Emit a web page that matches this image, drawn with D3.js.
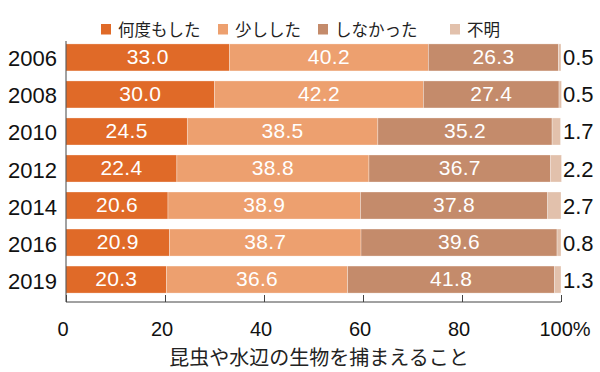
<!DOCTYPE html>
<html><head><meta charset="utf-8">
<script src="https://cdn.jsdelivr.net/npm/d3@7"></script>
<style>body{margin:0;background:#fff}svg{display:block}</style>
</head><body><svg id="c" width="600" height="372"></svg>
<script>
const years = ["2006","2008","2010","2012","2014","2016","2019"];
const seriesNames = ["何度もした","少しした","しなかった","不明"];
const often = [33.0,30.0,24.5,22.4,20.6,20.9,20.3];
const little = [40.2,42.2,38.5,38.8,38.9,38.7,36.6];
const never = [26.3,27.4,35.2,36.7,37.8,39.6,41.8];
const unknown = [0.5,0.5,1.7,2.2,2.7,0.8,1.3];
const colors = ["#E06A28","#EDA06F","#C48B6B","#E2C1AC"];
const xTicks = [0,20,40,60,80,100];
const xTitle = "昆虫や水辺の生物を捕まえること";

const svg = d3.select("#c");
const x = d3.scaleLinear().domain([0,100]).range([66,561]);
const y = d3.scaleBand().domain(years).range([38,299]).paddingInner(0.27).paddingOuter(0.16);
const latin = "'Liberation Sans', Arial, sans-serif";
const cjk = "'Noto Sans CJK JP', sans-serif";

const rows = years.map((yr,i)=>({year:yr, vals:[often[i],little[i],never[i],unknown[i]]}));
const stackData = rows.map(r=>{const o={year:r.year}; seriesNames.forEach((s,k)=>o[s]=r.vals[k]); return o;});
const stacked = d3.stack().keys(seriesNames)(stackData);

stacked.forEach((layer,k)=>{
  const g = svg.append("g");
  g.selectAll("rect").data(layer).join("rect")
    .attr("x",d=>x(d[0])).attr("width",d=>x(d[1])-x(d[0]))
    .attr("y",d=>y(d.data.year)).attr("height",y.bandwidth())
    .attr("fill",colors[k]).attr("stroke","#fff").attr("stroke-width",0.6).attr("stroke-opacity",0.5);
  if(k<3){
    g.selectAll("text").data(layer).join("text")
      .attr("x",d=>(x(d[0])+x(d[1]))/2).attr("y",d=>y(d.data.year)+y.bandwidth()/2+6.5)
      .attr("text-anchor","middle").attr("fill","#fff")
      .style("font-family",latin).style("font-size","21px").style("letter-spacing","0.3px")
      .text(d=>d3.format(".1f")(d[1]-d[0]));
  }
});

// right labels (不明)
svg.append("g").selectAll("text").data(rows).join("text")
  .attr("x",563).attr("y",d=>y(d.year)+y.bandwidth()/2+8)
  .style("font-family",latin).style("font-size","22px").attr("fill","#111")
  .text(d=>d3.format(".1f")(d.vals[3]));

// year labels
svg.append("g").selectAll("text").data(years).join("text")
  .attr("x",57).attr("y",d=>y(d)+y.bandwidth()/2+9)
  .attr("text-anchor","end")
  .style("font-family",latin).style("font-size","22px").attr("fill","#111")
  .text(d=>d);

// axes
const xAxis = d3.axisBottom(x).tickValues(xTicks).tickSize(-7).tickFormat("");
const ax = svg.append("g").attr("transform","translate(0,302)").call(xAxis);
ax.select(".domain").remove();
ax.selectAll(".tick line").attr("stroke","#444");
svg.append("line").attr("x1",66).attr("x2",561).attr("y1",302).attr("y2",302).attr("stroke","#444");
svg.append("line").attr("x1",66).attr("x2",66).attr("y1",41).attr("y2",302).attr("stroke","#444");

svg.append("g").selectAll("text").data(xTicks).join("text")
  .attr("x",d=>d===100? x(d)+4 : x(d)-3).attr("y",336)
  .attr("text-anchor","middle")
  .style("font-family",latin).style("font-size","20px").attr("fill","#111")
  .text(d=>d===100? "100%" : d);

svg.append("text").attr("x",319).attr("y",365).attr("text-anchor","middle")
  .style("font-family",cjk).style("font-size","20px").attr("fill","#222")
  .text(xTitle);

// legend
const legX = [101,218,318,450];
const lg = svg.append("g");
seriesNames.forEach((s,k)=>{
  lg.append("rect").attr("x",legX[k]).attr("y",24).attr("width",10).attr("height",10.5).attr("fill",colors[k]);
  lg.append("text").attr("x",legX[k]+17).attr("y",35.5)
    .style("font-family",cjk).style("font-size","16.5px").attr("fill","#222").text(s);
});
</script></body></html>
